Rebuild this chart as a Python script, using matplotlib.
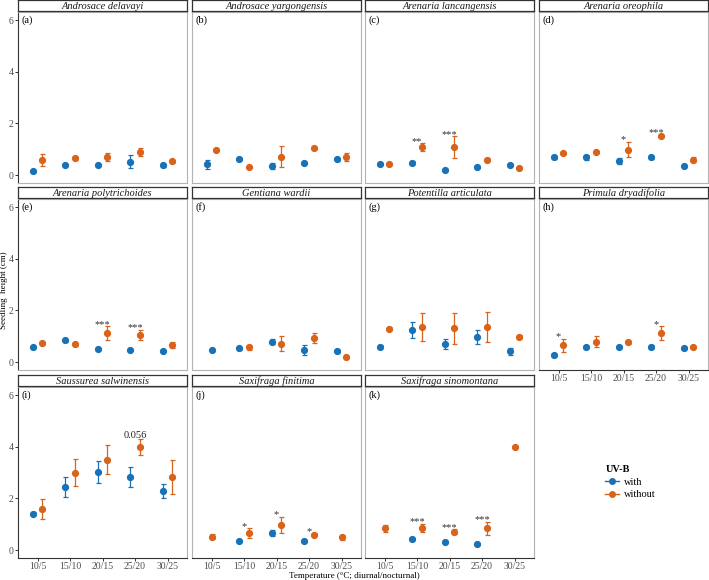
import matplotlib
matplotlib.use("Agg")
import matplotlib.pyplot as plt
from matplotlib.lines import Line2D
import numpy as np

plt.rcParams['font.family'] = ['Liberation Serif', 'DejaVu Serif']

nan = np.nan
temps = ["10/5", "15/10", "20/15", "25/20", "30/25"]
species = ["Androsace delavayi", "Androsace yargongensis", "Arenaria lancangensis",
           "Arenaria oreophila", "Arenaria polytrichoides", "Gentiana wardii",
           "Potentilla articulata", "Primula dryadifolia", "Saussurea salwinensis",
           "Saxifraga finitima", "Saxifraga sinomontana"]
letters = "abcdefghijk"

# mean seedling height (cm), with UV-B
with_mean = [
    [0.17, 0.39, 0.39, 0.52, 0.37],
    [0.41, 0.62, 0.35, 0.45, 0.61],
    [0.44, 0.48, 0.19, 0.32, 0.39],
    [0.68, 0.68, 0.54, 0.68, 0.35],
    [0.59, 0.84, 0.49, 0.45, 0.44],
    [0.48, 0.53, 0.79, 0.45, 0.41],
    [0.59, 1.24, 0.69, 0.97, 0.41],
    [0.28, 0.59, 0.58, 0.60, 0.55],
    [1.41, 2.44, 3.01, 2.84, 2.30],
    [nan, 0.36, 0.65, 0.36, nan],
    [nan, 0.41, 0.32, 0.23, nan],
]
with_se = [
    [0.04, 0.05, 0.05, 0.26, 0.06],
    [0.16, 0.05, 0.10, 0.04, 0.05],
    [0.04, 0.06, 0.04, 0.04, 0.05],
    [0.05, 0.10, 0.12, 0.06, 0.04],
    [0.04, 0.05, 0.04, 0.04, 0.04],
    [0.04, 0.05, 0.10, 0.19, 0.05],
    [0.06, 0.32, 0.20, 0.28, 0.13],
    [0.04, 0.04, 0.04, 0.04, 0.04],
    [0.05, 0.40, 0.43, 0.39, 0.27],
    [nan, 0.04, 0.12, 0.04, nan],
    [nan, 0.04, 0.04, 0.04, nan],
]
# without UV-B
without_mean = [
    [0.57, 0.65, 0.70, 0.89, 0.53],
    [0.97, 0.30, 0.71, 1.03, 0.71],
    [0.44, 1.08, 1.08, 0.59, 0.27],
    [0.86, 0.90, 0.98, 1.52, 0.59],
    [0.72, 0.68, 1.12, 1.06, 0.67],
    [nan, 0.57, 0.71, 0.92, 0.21],
    [1.29, 1.36, 1.30, 1.36, 0.98],
    [0.64, 0.79, 0.76, 1.12, 0.59],
    [1.60, 2.99, 3.50, 4.00, 2.84],
    [0.52, 0.66, 0.98, 0.59, 0.49],
    [0.84, 0.86, 0.71, 0.84, 4.00],
]
without_se = [
    [0.23, 0.05, 0.17, 0.15, 0.05],
    [0.05, 0.04, 0.41, 0.04, 0.15],
    [0.04, 0.15, 0.42, 0.05, 0.04],
    [0.05, 0.05, 0.30, 0.05, 0.10],
    [0.05, 0.05, 0.26, 0.20, 0.12],
    [nan, 0.10, 0.29, 0.20, 0.04],
    [0.05, 0.55, 0.60, 0.59, 0.06],
    [0.25, 0.20, 0.05, 0.27, 0.04],
    [0.39, 0.52, 0.57, 0.30, 0.65],
    [0.10, 0.18, 0.31, 0.06, 0.10],
    [0.14, 0.15, 0.10, 0.26, 0.04],
]
# significance marks
sig_panel = [2, 2, 3, 3, 4, 4, 7, 7, 8, 9, 9, 9, 10, 10, 10]
sig_temp = [1, 2, 2, 3, 2, 3, 0, 3, 3, 1, 2, 3, 1, 2, 3]
sig_text = ["**", "***", "*", "***", "***", "***", "*", "*", "0.056",
            "*", "*", "*", "***", "***", "***"]

c_with = "#1872b5"
c_without = "#d8631a"

W, H = 709, 580
fig = plt.figure(figsize=(W / 100, H / 100), dpi=100)
col_x = [18, 192, 365, 539]
row_top = [12, 199, 387]
pw, ph = 169, 171
strip_h = 11
dodge = 0.15

for k, name in enumerate(species):
    r, c = k // 4, k % 4
    x0, top = col_x[c], row_top[r]
    ax = fig.add_axes([x0 / W, 1 - (top + ph) / H, pw / W, ph / H])
    st = fig.add_axes([x0 / W, 1 - (top - 1) / H, pw / W, strip_h / H])

    wm, ws = np.array(with_mean[k]), np.array(with_se[k])
    om, os_ = np.array(without_mean[k]), np.array(without_se[k])
    xs = np.arange(1, 6)
    xw = np.where(np.isnan(om), xs, xs - dodge)
    xo = np.where(np.isnan(wm), xs, xs + dodge)
    ax.errorbar(xw, wm, yerr=ws, fmt='o', color=c_with, ms=4.2, elinewidth=0.9,
                capsize=1.8, capthick=0.9, zorder=3)
    ax.errorbar(xo, om, yerr=os_, fmt='o', color=c_without, ms=4.2, elinewidth=0.9,
                capsize=1.8, capthick=0.9, zorder=3)

    for p, t, s in zip(sig_panel, sig_temp, sig_text):
        if p == k:
            ytop = om[t] + os_[t]
            if s.startswith("*"):
                ax.text(t + 1, ytop - 0.02, s, ha='center', va='baseline',
                        fontsize=7.5, color='#333333')
            else:
                ax.text(t + 1, ytop + 0.05, s, ha='center', va='baseline',
                        fontsize=7.5, color='#222222')

    ax.set_xlim(0.4, 5.6)
    ax.set_ylim(-0.31, 6.32)
    for sp in ax.spines.values():
        sp.set_color('#b3b3b3')
        sp.set_linewidth(0.8)
    ax.tick_params(length=2, width=0.7, color='#333333', labelsize=7,
                   labelcolor='#4d4d4d', pad=1)
    if c == 0:
        ax.set_yticks([0, 2, 4, 6])
        ax.spines['left'].set_color('#333333')
    else:
        ax.set_yticks([])
    bottom = (r == 2) or (c == 3 and r == 1)
    if bottom:
        ax.set_xticks(xs)
        ax.set_xticklabels(temps)
        ax.spines['bottom'].set_color('#333333')
    else:
        ax.set_xticks([])
    ax.annotate("(%s)" % letters[k], xy=(0.02, 6), xycoords=('axes fraction', 'data'),
                ha='left', va='center', fontsize=7.5)

    st.set_xticks([])
    st.set_yticks([])
    st.set_facecolor('white')
    for sp in st.spines.values():
        sp.set_color('#333333')
        sp.set_linewidth(0.9)
    st.text(0.5, 0.45, name, ha='center', va='center', fontsize=7.5,
            style='italic', color='#1a1a1a', transform=st.transAxes)

fig.text(4 / W, 1 - 290 / H, "Seedling  height (cm)", rotation=90, ha='center',
         va='center', fontsize=6.5)
fig.text(354 / W, 1 - 575.5 / H, "Temperature (°C; diurnal/nocturnal)", ha='center',
         va='center', fontsize=6.5)

handles = [Line2D([0], [0], color=c_with, marker='o', ms=4, lw=1),
           Line2D([0], [0], color=c_without, marker='o', ms=4, lw=1)]
leg = fig.legend(handles, ["with", "without"], title="UV-B", loc='upper left',
                 bbox_to_anchor=(596 / W, 1 - 456 / H), frameon=False, fontsize=7.5,
                 handlelength=1.3, handletextpad=0.5, labelspacing=0.3,
                 title_fontproperties={'weight': 'bold', 'size': 7.5})
leg._legend_box.align = 'left'

fig.savefig('out.png', dpi=100)
